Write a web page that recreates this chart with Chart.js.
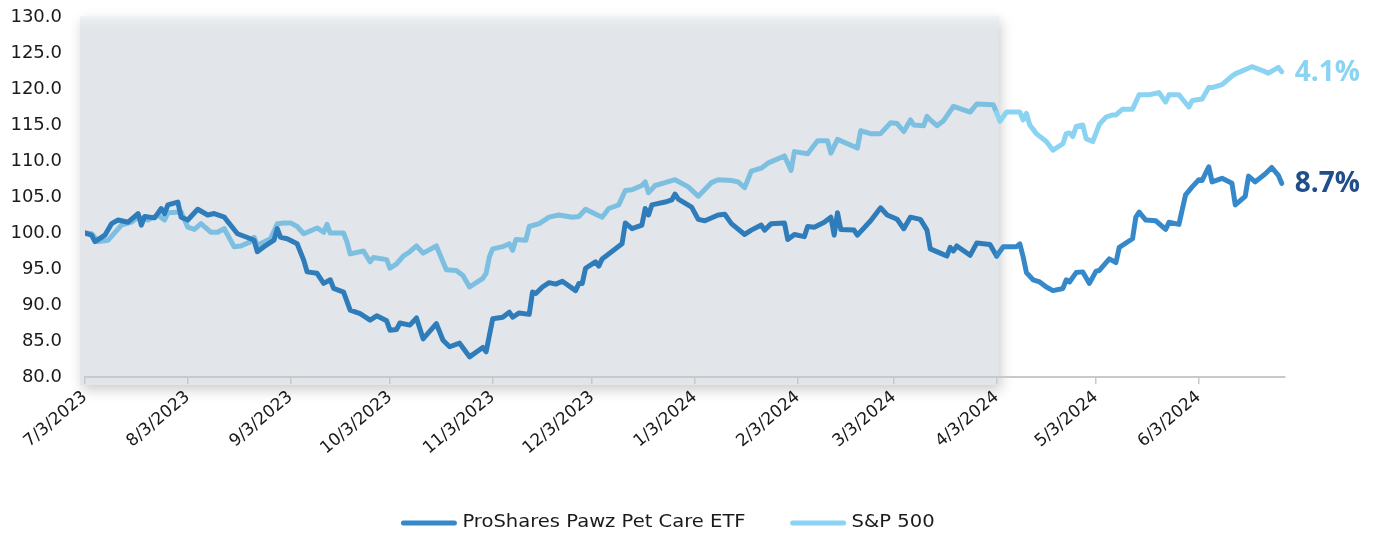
<!DOCTYPE html>
<html>
<head>
<meta charset="utf-8">
<title>ProShares Pawz Pet Care ETF vs S&amp;P 500</title>
<script src="https://cdn.jsdelivr.net/npm/chart.js@4.4.1/dist/chart.umd.min.js"></script>
<style>
    body { margin: 0; background: #ffffff; }
    #wrap { width: 1377px; height: 538px; position: relative; }
</style>
</head>
<body>
<div id="wrap"><canvas id="perfChart"></canvas></div>
<script>
// x values are days since 7/3/2023
const tickDays = [0, 31, 62, 92, 123, 153, 184, 215, 244, 275, 305, 336];
const tickLabels = ['7/3/2023', '8/3/2023', '9/3/2023', '10/3/2023', '11/3/2023', '12/3/2023',
    '1/3/2024', '2/3/2024', '3/3/2024', '4/3/2024', '5/3/2024', '6/3/2024'];
const shadeEndDay = 275; // grey box ends at 4/3/2024

const seriesNames = ['ProShares Pawz Pet Care ETF', 'S&P 500'];
const endLabels = ['8.7%', '4.1%'];

const pawzDays = [0, 2, 3, 6, 8, 10, 13, 16, 17, 18, 21, 23, 24, 25, 28, 29, 31, 34, 37, 39,
    42, 46, 50, 51, 52, 54, 57, 58, 59, 61, 64, 66, 67, 70, 72, 74, 75, 78, 80, 83,
    86, 88, 91, 92, 94, 95, 98, 100, 102, 106, 108, 110, 113, 116, 120, 121, 123, 126, 128, 129,
    131, 134, 135, 136, 138, 140, 142, 144, 148, 149, 150, 151, 154, 155, 156, 162, 163, 165, 168, 169,
    170, 171, 175, 177, 178, 179, 183, 185, 187, 191, 193, 195, 199, 201, 204, 205, 207, 211, 212, 214,
    217, 218, 220, 223, 225, 226, 227, 228, 232, 233, 237, 240, 242, 245, 247, 249, 252, 254, 255, 258,
    260, 261, 262, 263, 267, 269, 273, 275, 277, 281, 282, 283, 284, 286, 288, 290, 292, 295, 296, 297,
    299, 301, 303, 305, 306, 309, 311, 312, 316, 317, 318, 320, 323, 326, 327, 330, 332, 334, 336, 337,
    339, 340, 343, 346, 347, 350, 351, 353, 356, 358, 360, 361];
const pawzValues = [100.0, 99.7, 98.8, 99.7, 101.3, 101.8, 101.5, 102.7, 101.1, 102.3, 102.1, 103.4, 102.7, 103.9, 104.3, 102.2, 101.8, 103.3, 102.5, 102.7,
    102.2, 99.9, 99.2, 99.0, 97.4, 98.1, 99.0, 100.6, 99.4, 99.2, 98.5, 96.2, 94.6, 94.4, 93.0, 93.5, 92.3, 91.8, 89.3, 88.8,
    87.9, 88.5, 87.8, 86.5, 86.6, 87.5, 87.2, 88.2, 85.3, 87.4, 85.1, 84.2, 84.7, 82.8, 84.1, 83.5, 88.1, 88.3, 89.0, 88.3,
    88.9, 88.7, 91.8, 91.6, 92.5, 93.1, 92.9, 93.3, 92.0, 93.0, 93.0, 95.1, 96.0, 95.4, 96.4, 98.5, 101.4, 100.6, 101.1, 103.4,
    102.5, 103.9, 104.3, 104.6, 105.4, 104.7, 103.6, 101.9, 101.7, 102.5, 102.6, 101.3, 99.8, 100.4, 101.1, 100.4, 101.3, 101.4, 99.1, 99.8,
    99.5, 100.9, 100.8, 101.5, 102.2, 99.7, 102.8, 100.5, 100.4, 99.7, 101.7, 103.5, 102.5, 101.9, 100.6, 102.2, 101.9, 100.4, 97.8, 97.2,
    96.8, 98.0, 97.5, 98.2, 96.9, 98.6, 98.4, 96.8, 98.1, 98.1, 98.5, 96.7, 94.5, 93.5, 93.2, 92.5, 92.0, 92.3, 93.5, 93.2,
    94.5, 94.6, 93.0, 94.7, 94.8, 96.4, 95.9, 98.0, 99.2, 102.2, 102.9, 101.8, 101.7, 100.5, 101.5, 101.2, 105.3, 106.4, 107.4, 107.3,
    109.2, 107.1, 107.6, 106.9, 103.9, 105.1, 107.9, 107.1, 108.2, 109.1, 108.0, 106.9];

const spxDays = [0, 2, 4, 7, 11, 14, 16, 19, 22, 24, 25, 29, 31, 33, 35, 38, 40, 42, 45, 47,
    50, 51, 52, 56, 58, 60, 62, 64, 66, 70, 72, 73, 74, 78, 79, 80, 84, 86, 87, 91,
    92, 94, 96, 98, 100, 102, 106, 109, 112, 114, 116, 120, 121, 122, 123, 126, 128, 129, 130, 133,
    134, 137, 140, 143, 147, 149, 151, 156, 158, 161, 163, 165, 168, 169, 170, 172, 175, 178, 182, 185,
    189, 191, 195, 197, 199, 201, 204, 206, 211, 213, 214, 218, 221, 224, 225, 227, 230, 233, 234, 237,
    240, 243, 245, 247, 249, 250, 253, 254, 255, 257, 259, 262, 267, 269, 274, 275, 276, 278, 282, 283,
    284, 285, 287, 290, 292, 295, 296, 297, 298, 299, 301, 302, 304, 306, 308, 310, 311, 313, 316, 318,
    321, 324, 326, 327, 330, 333, 334, 337, 339, 340, 343, 346, 347, 352, 355, 357, 360, 361];
const spxValues = [100.0, 99.9, 98.8, 99.0, 101.1, 101.5, 102.2, 101.8, 102.5, 101.8, 102.8, 102.9, 100.8, 100.5, 101.3, 100.1, 100.1, 100.6, 98.1, 98.2,
    98.8, 99.4, 98.3, 99.2, 101.3, 101.4, 101.4, 100.9, 99.9, 100.7, 100.1, 101.2, 100.0, 100.0, 98.8, 97.1, 97.5, 96.0, 96.6, 96.3,
    95.1, 95.7, 96.8, 97.4, 98.2, 97.2, 98.2, 94.9, 94.8, 94.1, 92.5, 93.7, 94.4, 96.7, 97.8, 98.1, 98.5, 97.6, 99.1, 99.0,
    100.9, 101.3, 102.2, 102.5, 102.2, 102.3, 103.3, 102.2, 103.4, 103.9, 105.9, 106.0, 106.6, 107.1, 105.6, 106.6, 107.0, 107.4, 106.4, 105.1,
    107.0, 107.4, 107.3, 107.1, 106.3, 108.6, 109.0, 109.7, 110.7, 108.7, 111.3, 111.0, 112.8, 112.8, 111.1, 113.0, 112.4, 111.8, 114.2, 113.8,
    113.8, 115.3, 115.2, 114.1, 115.7, 115.0, 114.9, 116.2, 115.7, 114.9, 115.6, 117.6, 116.8, 117.9, 117.8, 116.7, 115.5, 116.8, 116.8, 115.7,
    116.6, 115.0, 113.8, 112.7, 111.5, 112.4, 113.8, 113.9, 113.4, 114.8, 115.0, 113.1, 112.7, 115.1, 116.1, 116.4, 116.4, 117.2, 117.2, 119.2,
    119.2, 119.5, 118.2, 119.2, 119.2, 117.5, 118.4, 118.6, 120.2, 120.2, 120.6, 121.8, 122.1, 123.1, 122.6, 122.2, 123.0, 122.4];

const FONT = '"DejaVu Sans", "Open Sans", sans-serif';
const BOLD_FONT = '"Open Sans", "DejaVu Sans", sans-serif';

function toPoints(days, values) {
    return days.map((d, i) => ({ x: d, y: values[i] }));
}

// grey box behind the first part of the chart, with a soft drop shadow
const shadePlugin = {
    id: 'shadeBox',
    beforeDraw(chart) {
        const { ctx, chartArea, scales } = chart;
        const left = chartArea.left - 5;
        const right = scales.x.getPixelForValue(shadeEndDay) + 2;
        const top = chartArea.top - 1;
        const bottom = chartArea.bottom + 8;

        ctx.save();
        ctx.shadowColor = 'rgba(0, 0, 0, 0.2)';
        ctx.shadowBlur = 12;
        ctx.shadowOffsetX = 2;
        ctx.shadowOffsetY = 5;
        ctx.fillStyle = '#e2e5e9';
        ctx.fillRect(left, top, right - left, bottom - top);
        ctx.restore();

        ctx.save();
        const g = ctx.createLinearGradient(0, top, 0, top + 16);
        g.addColorStop(0, '#f1f3f6');
        g.addColorStop(1, 'rgba(226, 229, 233, 0)');
        ctx.fillStyle = g;
        ctx.fillRect(left, top, right - left, 16);
        ctx.restore();
    }
};

// percentage labels at the end of each line
const endLabelPlugin = {
    id: 'endLabels',
    afterDatasetsDraw(chart) {
        const ctx = chart.ctx;
        const colors = ['#1f4e8a', '#8ad3f3'];
        chart.data.datasets.forEach((ds, i) => {
            const meta = chart.getDatasetMeta(i);
            const last = meta.data[meta.data.length - 1];
            ctx.save();
            ctx.font = 'bold 28px ' + BOLD_FONT;
            ctx.fillStyle = colors[i];
            ctx.textBaseline = 'middle';
            ctx.fillText(endLabels[i], last.x + 13, last.y + 1);
            ctx.restore();
        });
    }
};

// legend drawn by hand so the gap between the two entries can be wide
const bottomLegend = {
    id: 'bottomLegend',
    afterDraw(chart) {
        const ctx = chart.ctx;
        const lineLen = 55, textGap = 6, itemGap = 45, y = 523, centerX = 668;
        const stretch = 1.15; // the source text is drawn a little wide
        ctx.save();
        ctx.font = '17px ' + FONT;
        ctx.textBaseline = 'middle';
        const textWidths = chart.data.datasets.map(ds => ctx.measureText(ds.label).width * stretch);
        const widths = textWidths.map(w => lineLen + textGap + w);
        const total = widths.reduce((a, b) => a + b, 0) + itemGap * (widths.length - 1);
        let x = centerX - total / 2;
        chart.data.datasets.forEach((ds, i) => {
            ctx.strokeStyle = ds.borderColor;
            ctx.lineWidth = 5;
            ctx.lineCap = 'round';
            ctx.beginPath();
            ctx.moveTo(x + 2, y);
            ctx.lineTo(x + lineLen - 2, y);
            ctx.stroke();

            ctx.save();
            ctx.translate(x + lineLen + textGap, y);
            ctx.scale(stretch, 1);
            ctx.fillStyle = '#1a1a1a';
            ctx.fillText(ds.label, 0, 0);
            ctx.restore();

            x += widths[i] + itemGap;
        });
        ctx.restore();
    }
};

function initializeChart() {
    const ctx = document.getElementById('perfChart').getContext('2d');

    const chart = new Chart(ctx, {
        type: 'line',
        data: {
            datasets: [{
                label: seriesNames[0],
                data: toPoints(pawzDays, pawzValues),
                borderColor: '#3589cb',
                borderWidth: 5,
                pointRadius: 0,
                tension: 0,
                borderJoinStyle: 'round',
                borderCapStyle: 'round',
                segment: {
                    borderColor: c => c.p1.parsed.x <= shadeEndDay ? '#2e7cba' : '#3589cb'
                }
            }, {
                label: seriesNames[1],
                data: toPoints(spxDays, spxValues),
                borderColor: '#8ad3f3',
                borderWidth: 5,
                pointRadius: 0,
                tension: 0,
                borderJoinStyle: 'round',
                borderCapStyle: 'round',
                segment: {
                    borderColor: c => c.p1.parsed.x <= shadeEndDay ? '#7cbfe0' : '#8ad3f3'
                }
            }]
        },
        options: {
            responsive: true,
            maintainAspectRatio: false,
            animation: false,
            layout: {
                padding: { left: 0, right: 92, top: 17, bottom: 0 }
            },
            plugins: {
                legend: { display: false },
                tooltip: { enabled: false }
            },
            scales: {
                x: {
                    type: 'linear',
                    min: 0,
                    max: 362,
                    afterBuildTicks: axis => {
                        axis.ticks = tickDays.map(v => ({ value: v }));
                    },
                    afterFit: scale => {
                        scale.height = 161;
                    },
                    grid: {
                        drawOnChartArea: false,
                        drawTicks: true,
                        tickLength: 7,
                        color: '#c9c9c9',
                        lineWidth: 1.5
                    },
                    border: {
                        display: true,
                        color: '#c9c9c9',
                        width: 2
                    },
                    ticks: {
                        autoSkip: false,
                        maxRotation: 40,
                        minRotation: 40,
                        padding: 3,
                        color: '#1a1a1a',
                        font: { family: FONT, size: 17 },
                        callback: function(value, index) {
                            return tickLabels[index];
                        }
                    }
                },
                y: {
                    min: 80,
                    max: 130,
                    afterFit: scale => {
                        scale.width = 85;
                        // keep the label padding from pushing the plot down
                        scale.paddingTop = 0;
                        scale.paddingBottom = 0;
                    },
                    grid: { display: false, drawTicks: false },
                    border: { display: false },
                    ticks: {
                        stepSize: 5,
                        padding: 23,
                        color: '#1a1a1a',
                        font: { family: FONT, size: 18 },
                        callback: function(value) {
                            return value.toFixed(1);
                        }
                    }
                }
            }
        },
        plugins: [shadePlugin, endLabelPlugin, bottomLegend]
    });
    window.perfChart = chart;
}

document.addEventListener('DOMContentLoaded', initializeChart);
</script>
</body>
</html>
